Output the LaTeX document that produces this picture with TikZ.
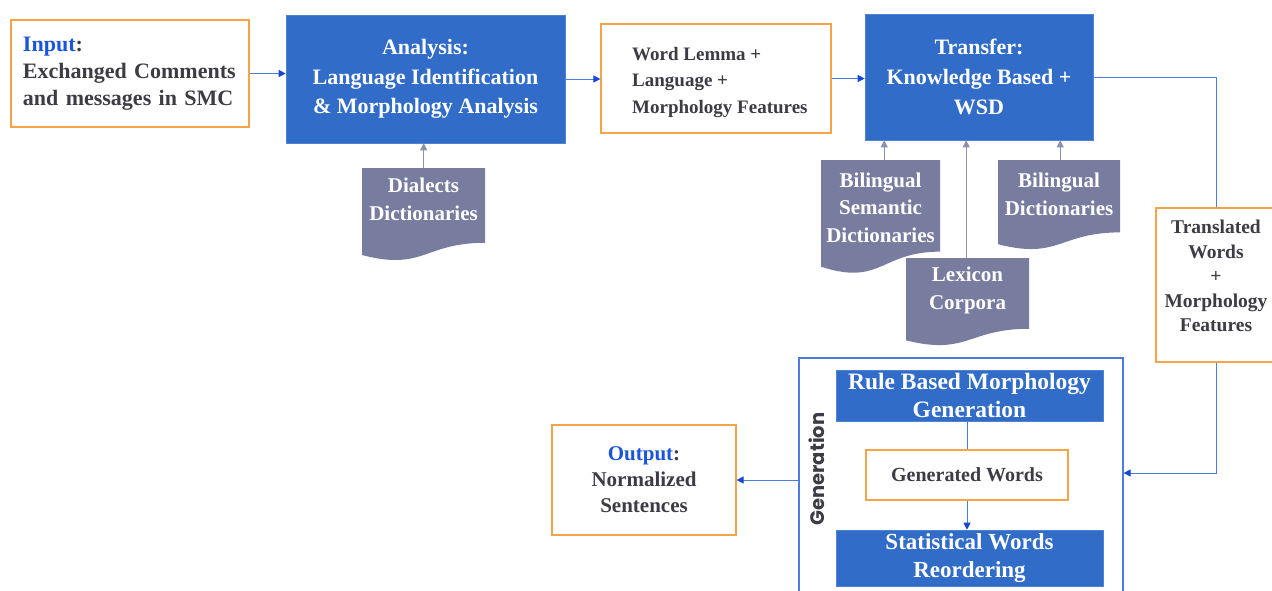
\documentclass[tikz,border=0pt]{standalone}
\usepackage{fontspec}
\setmainfont{Liberation Serif}
\newfontfamily\labelsans{Poppins}
\usetikzlibrary{arrows.meta,calc}

\definecolor{procblue}{HTML}{306CC8}
\definecolor{dataorange}{HTML}{F5A447}
\definecolor{docgray}{HTML}{787D9F}
\definecolor{linkblue}{HTML}{4C7BE3}
\definecolor{tipblue}{HTML}{1746D6}
\definecolor{linkgray}{HTML}{8C90AC}
\definecolor{inktext}{HTML}{3C3C44}
\definecolor{headblue}{HTML}{1A56DB}

\newcommand{\fsz}[2]{\bfseries\fontsize{#1}{#2}\selectfont}

\begin{document}
\begin{tikzpicture}[x=1pt,y=-1pt,
  proc/.style={rectangle, fill=procblue, draw=procblue!85!white, line width=0.6pt,
    text=white, align=center, inner sep=0pt},
  data/.style={rectangle, draw=dataorange, line width=1.2pt, fill=white,
    text=inktext, align=center, inner sep=0pt},
  doc/.style={rectangle, inner sep=0pt, anchor=north west,
    path picture={
      \fill[docgray] let \p1=(path picture bounding box.south west),
                         \p2=(path picture bounding box.north east) in
        (\x1,\y2) -- (\x2,\y2) -- (\x2,{\y2-0.802*(\y2-\y1)})
        .. controls ({0.5*\x1+0.5*\x2},{\y2-0.802*(\y2-\y1)})
               and ({0.5*\x1+0.5*\x2},{\y2-1.107*(\y2-\y1)})
        .. (\x1,{\y2-0.934*(\y2-\y1)}) -- cycle;}},
  doctext/.style={text=white, align=center, inner sep=0pt, font=\fsz{21}{27.5}},
  flow/.style={draw=linkblue, line width=1pt, -{Triangle[length=7pt,width=7pt,color=tipblue]}},
  plain/.style={draw=linkblue, line width=1pt},
  feed/.style={draw=linkgray, line width=1pt, -{Triangle[length=7pt,width=7pt]}},
]
\useasboundingbox (0,0) rectangle (1272,590);
\clip (0,0) rectangle (1272,590);

% ---------- top row ----------
\node[data, minimum width=238pt, minimum height=107pt, text width=214pt, align=left,
      font=\fsz{22}{27}] (input) at (130,73.5)
  {\textcolor{headblue}{Input}:\\Exchanged Comments\\and messages in SMC};

\node[proc, minimum width=279pt, minimum height=128pt, font=\fsz{22}{29.5}] (analysis) at (425.5,79)
  {Analysis:\\Language Identification\\\& Morphology Analysis};

\node[data, minimum width=230pt, minimum height=109pt] (lemma) at (716,78.5) {};
\node[text=inktext, align=left, inner sep=0pt, anchor=west, font=\fsz{19}{27}] (lemmat) at (632,82.5)
  {Word Lemma +\\Language +\\Morphology Features};

\node[proc, minimum width=228pt, minimum height=126pt, font=\fsz{22}{30}] (transfer) at (979,77)
  {Transfer:\\Knowledge Based +\\WSD};

% ---------- resources ----------
\node[doc, minimum width=123pt, minimum height=93pt] (dial) at (362,168) {};
\node[doctext] (dialt) at (423.5,199.5) {Dialects\\Dictionaries};

\node[doc, minimum width=119pt, minimum height=114pt] (bisem) at (821,160) {};
\node[doctext] (bisemt) at (880.5,207.5) {Bilingual\\Semantic\\Dictionaries};

\node[doc, minimum width=122pt, minimum height=90pt] (bidict) at (998,160) {};
\node[doctext] (bidictt) at (1059,194.5) {Bilingual\\Dictionaries};

\node[doc, minimum width=123pt, minimum height=88pt] (lex) at (906,258) {};
\node[doctext] (lext) at (967.5,290.5) {Lexicon\\Corpora};

% ---------- intermediate result ----------
\node[data, minimum width=120pt, minimum height=154pt] (transl) at (1216,285) {};
\node[text=inktext, align=center, inner sep=0pt, font=\fsz{19.5}{24.5}] (translt) at (1216,276)
  {Translated\\Words\\+\\Morphology\\Features};

% ---------- generation stage ----------
\node[rectangle, draw=linkblue, line width=1.2pt, minimum width=324pt, minimum height=237pt,
      inner sep=0pt] (gen) at (961,476.5) {};
\node[rotate=90, text=inktext, inner sep=0pt, font=\labelsans\bfseries\fontsize{19.5}{19.5}\selectfont]
  (genlabel) at (817,469) {Generation};

\node[proc, minimum width=267pt, minimum height=51pt, font=\fsz{23.5}{27.5}] (rule) at (969.5,395.5)
  {Rule Based Morphology\\Generation};
\node[data, minimum width=202pt, minimum height=50pt, font=\fsz{20}{24}] (words) at (967,475)
  {Generated Words};
\node[proc, minimum width=267pt, minimum height=56pt, font=\fsz{23}{28}] (reorder) at (969.5,558)
  {Statistical Words\\Reordering};

\node[data, minimum width=184pt, minimum height=110pt, font=\fsz{21}{26}] (output) at (644,480)
  {\textcolor{headblue}{Output}:\\Normalized\\Sentences};

% ---------- connectors ----------
\draw[flow] (input.east) -- (input.east -| analysis.west);
\draw[flow] (analysis.east) -- (analysis.east -| lemma.west);
\draw[flow] (lemma.east) -- (lemma.east -| transfer.west);
\draw[plain] (transfer.east) -| (transl.north);
\coordinate (genin) at ($(gen.east)+(0,-3.5)$);
\draw[flow] (transl.south) |- (genin);
\draw[flow] (gen.west |- output.east) -- (output.east);
\draw[plain] (words.north |- rule.south) -- (words.north);
\draw[flow] (words.south) -- (words.south |- reorder.north);

% resource feeds
\coordinate (bisemtop) at ($(bisem.north)+(3.5,0)$);
\coordinate (lextop) at ($(lex.north)+(-1.5,0)$);
\coordinate (bidicttop) at ($(bidict.north)+(1,0)$);
\draw[feed] (dial.north) -- (dial.north |- analysis.south);
\draw[feed] (bisemtop) -- (bisemtop |- transfer.south);
\draw[feed] (lextop) -- (lextop |- transfer.south);
\draw[feed] (bidicttop) -- (bidicttop |- transfer.south);
\end{tikzpicture}
\end{document}
